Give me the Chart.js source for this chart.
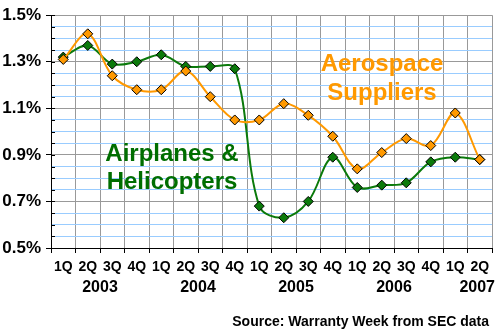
<!DOCTYPE html>
<html>
<head>
<meta charset="utf-8">
<script src="https://cdn.jsdelivr.net/npm/chart.js@4/dist/chart.umd.min.js"></script>
<style>
  html, body { margin: 0; padding: 0; background: #fff; }
  canvas { display: block; }
</style>
</head>
<body>
<canvas id="warrantyChart" width="500" height="333"></canvas>
<script>
// Warranty claims as % of product sales, by quarter
const quarters = ["1Q", "2Q", "3Q", "4Q", "1Q", "2Q", "3Q", "4Q", "1Q", "2Q", "3Q", "4Q",
                  "1Q", "2Q", "3Q", "4Q", "1Q", "2Q"];
const years = ["2003", "2004", "2005", "2006", "2007"];
const quartersPerYear = [4, 4, 4, 4, 2];

const aerospace = [1.31, 1.42, 1.24, 1.18, 1.18, 1.26, 1.15, 1.05, 1.05, 1.12, 1.07, 0.98,
                   0.84, 0.91, 0.97, 0.94, 1.08, 0.88];
const airplanes = [1.32, 1.37, 1.29, 1.30, 1.33, 1.28, 1.28, 1.27, 0.68, 0.63, 0.70, 0.89,
                   0.76, 0.77, 0.78, 0.87, 0.89, 0.88];

const yTickLabels = [0.5, 0.7, 0.9, 1.1, 1.3, 1.5];
const yMinorStep = 0.05;

const FONT = '"Liberation Sans", Arial, Helvetica, sans-serif';
const ORANGE = "#ff9900";
const GREEN = "#0b7a0b";
const GREEN_TEXT = "#006e00";

const isMajor = v => yTickLabels.some(t => Math.abs(t - v) < 1e-6);

// extra drawing: inner tick marks, year row, series captions, source note
const extras = {
  id: "extras",
  afterDraw(chart) {
    const { ctx, chartArea, scales } = chart;
    const x = scales.x, y = scales.y;
    ctx.save();

    // small tick marks on the inside of the value axis
    ctx.strokeStyle = "#000";
    ctx.lineWidth = 1;
    y.ticks.forEach(t => {
      const py = Math.round(y.getPixelForValue(t.value)) + 0.5;
      ctx.beginPath();
      ctx.moveTo(chartArea.left, py);
      ctx.lineTo(chartArea.left + 4, py);
      ctx.stroke();
    });

    // year labels under the quarter labels
    ctx.fillStyle = "#000";
    ctx.font = "bold 16px " + FONT;
    ctx.textBaseline = "alphabetic";
    let start = 0;
    years.forEach((yr, i) => {
      const n = quartersPerYear[i];
      const mid = (x.getPixelForValue(start) + x.getPixelForValue(start + n - 1)) / 2;
      if (i === years.length - 1) {
        ctx.textAlign = "right";
        ctx.fillText(yr, chart.width - 5, 292);
      } else {
        ctx.textAlign = "center";
        ctx.fillText(yr, mid, 292);
      }
      start += n;
    });

    // series captions
    ctx.font = "bold 24px " + FONT;
    ctx.textAlign = "center";
    ctx.fillStyle = ORANGE;
    ctx.fillText("Aerospace", 382, 71);
    ctx.fillText("Suppliers", 382, 100);
    ctx.fillStyle = GREEN_TEXT;
    ctx.fillText("Airplanes &", 172, 161);
    ctx.fillText("Helicopters", 172, 189);

    // source note
    ctx.fillStyle = "#000";
    ctx.font = "bold 14px " + FONT;
    ctx.textAlign = "right";
    ctx.fillText("Source: Warranty Week from SEC data", 489, 326);

    ctx.restore();
  }
};

new Chart(document.getElementById("warrantyChart").getContext("2d"), {
  type: "line",
  data: {
    labels: quarters,
    datasets: [
      {
        label: "Aerospace Suppliers",
        data: aerospace,
        borderColor: ORANGE,
        backgroundColor: ORANGE,
        pointBackgroundColor: ORANGE,
        pointBorderColor: "#000",
        pointBorderWidth: 1,
        pointStyle: "rectRot",
        pointRadius: 5,
        borderWidth: 2,
        tension: 0.35
      },
      {
        label: "Airplanes & Helicopters",
        data: airplanes,
        borderColor: GREEN,
        backgroundColor: GREEN,
        pointBackgroundColor: GREEN,
        pointBorderColor: "#000",
        pointBorderWidth: 1,
        pointStyle: "rectRot",
        pointRadius: 5,
        borderWidth: 2,
        tension: 0.35
      }
    ]
  },
  options: {
    responsive: false,
    animation: false,
    devicePixelRatio: 1,
    layout: { padding: { top: 12, right: 8, bottom: 0, left: 0 } },
    plugins: {
      legend: { display: false },
      tooltip: { enabled: false }
    },
    scales: {
      x: {
        offset: true,
        grid: {
          offset: true,
          color: "#999999",
          tickColor: "#000",
          tickLength: 5,
          lineWidth: 1
        },
        border: { color: "#000", width: 1 },
        ticks: {
          color: "#000",
          font: { family: FONT, size: 14, weight: "bold" },
          padding: 6,
          maxRotation: 0,
          autoSkip: false
        },
        afterFit(scale) { scale.height = 85; }
      },
      y: {
        min: 0.5,
        max: 1.5,
        afterBuildTicks(scale) {
          const ticks = [];
          const n = Math.round((scale.max - scale.min) / yMinorStep);
          for (let i = 0; i <= n; i++) {
            ticks.push({ value: +(scale.min + i * yMinorStep).toFixed(2) });
          }
          scale.ticks = ticks;
        },
        grid: {
          color: ctx => isMajor(ctx.tick.value) ? "#999999" : "#99ccff",
          tickColor: ctx => isMajor(ctx.tick.value) ? "#000" : "rgba(0,0,0,0)",
          tickLength: 5,
          lineWidth: 1
        },
        border: { color: "#000", width: 1 },
        ticks: {
          color: "#000",
          font: { family: FONT, size: 17, weight: "bold" },
          padding: 5,
          autoSkip: false,
          callback: v => isMajor(v) ? v.toFixed(1) + "%" : ""
        },
        afterFit(scale) { scale.width = 51; }
      }
    }
  },
  plugins: [extras]
});
</script>
</body>
</html>
